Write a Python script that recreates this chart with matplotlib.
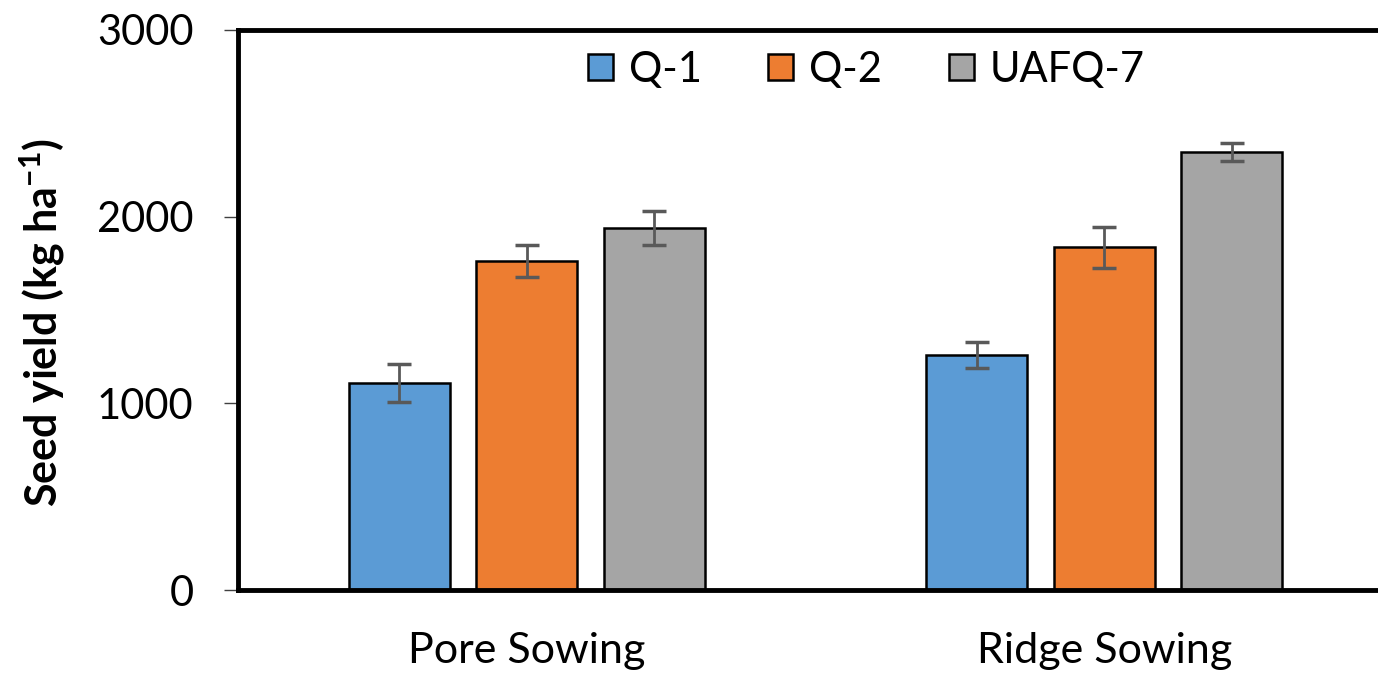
import numpy as np
import matplotlib
matplotlib.use("Agg")
import matplotlib.pyplot as plt

plt.rcParams['font.family'] = ['Lato', 'DejaVu Sans']
plt.rcParams['mathtext.fontset'] = 'custom'
plt.rcParams['mathtext.rm'] = 'Lato'
plt.rcParams['mathtext.bf'] = 'Lato:bold'

methods = ["Pore Sowing", "Ridge Sowing"]
varieties = ["Q-1", "Q-2", "UAFQ-7"]
colors = ["#5b9bd5", "#ed7d31", "#a5a5a5"]

# seed yield (kg/ha) per variety, [Pore, Ridge]
yields = {
    "Q-1": [1108, 1260],
    "Q-2": [1762, 1836],
    "UAFQ-7": [1940, 2345],
}
errors = {
    "Q-1": [102, 70],
    "Q-2": [85, 110],
    "UAFQ-7": [91, 49],
}

fig = plt.figure(figsize=(13.78, 6.74), dpi=100)
ax = fig.add_axes([0.1727, 0.1246, 0.8382, 0.8309])

x = np.arange(len(methods))
width = 0.175
step = 0.221
for i, v in enumerate(varieties):
    ax.bar(x + (i - 1) * step, yields[v], width, color=colors[i],
           edgecolor="black", linewidth=1.8, label=v, zorder=2)
    ax.errorbar(x + (i - 1) * step, yields[v], yerr=errors[v], fmt="none",
                ecolor="#595959", elinewidth=2, capsize=8.5, capthick=2.5, zorder=3)

ax.set_xlim(-0.5, 1.5)
ax.set_ylim(0, 3000)
ax.set_yticks([0, 1000, 2000, 3000])
ax.set_xticks(x)
ax.set_xticklabels(methods)
ax.tick_params(axis="x", length=0, pad=30, labelsize=31)
ax.tick_params(axis="y", length=10, width=1, color="#404040", pad=22, labelsize=30)

for s in ["left", "bottom", "top"]:
    ax.spines[s].set_linewidth(3.5)
ax.spines["right"].set_visible(False)

ax.set_ylabel("Seed yield (kg ha$^{\\mathbf{-1}}$)", fontsize=31, fontweight="bold")
ax.yaxis.set_label_coords(-0.148, 0.477)

ax.legend(loc="upper center", bbox_to_anchor=(0.544, 1.03), ncol=3, frameon=False,
          fontsize=30, handlelength=0.6, handleheight=0.6, handletextpad=0.38,
          columnspacing=1.6)

fig.savefig("out.png", dpi=100)
